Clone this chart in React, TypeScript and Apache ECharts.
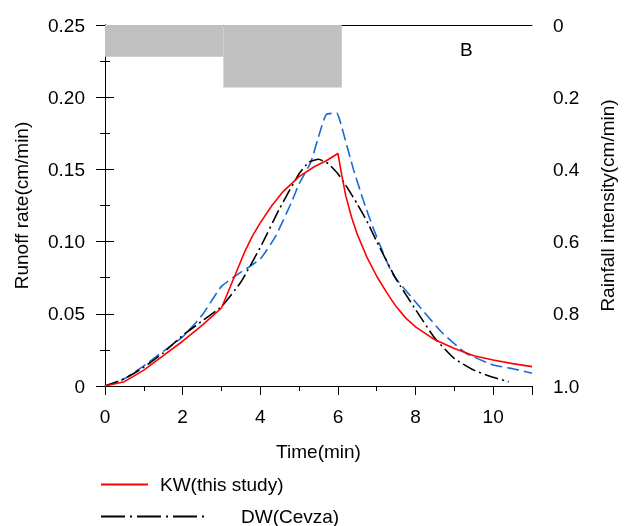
import React, { useEffect, useRef } from "react";
import * as echarts from "echarts";

// KW (this study) – red solid
const kwTime = [0, 0.5, 1, 1.5, 2, 2.5, 3, 3.2, 3.4, 3.6, 3.8, 4, 4.3, 4.6, 5, 5.4, 5.7, 6, 6.1, 6.2, 6.35, 6.5, 6.75, 7, 7.25, 7.5, 7.75, 8, 8.5, 9, 9.5, 10, 10.5, 11];
const kwRate = [0, 0.003, 0.011, 0.021, 0.031, 0.042, 0.054, 0.067, 0.08, 0.093, 0.104, 0.113, 0.125, 0.135, 0.145, 0.152, 0.156, 0.161, 0.146, 0.132, 0.117, 0.105, 0.089, 0.076, 0.065, 0.055, 0.047, 0.041, 0.032, 0.026, 0.021, 0.018, 0.0155, 0.0134];

// DW (Cevza) – black dash-dot
const dwTime = [0, 0.5, 1, 1.5, 2, 2.5, 3, 3.5, 4, 4.5, 5, 5.25, 5.5, 5.75, 6, 6.25, 6.5, 6.75, 7, 7.5, 8, 8.5, 9, 9.5, 10, 10.4];
const dwRate = [0, 0.005, 0.013, 0.023, 0.035, 0.045, 0.055, 0.072, 0.096, 0.123, 0.147, 0.155, 0.157, 0.154, 0.147, 0.137, 0.126, 0.114, 0.1, 0.074, 0.053, 0.033, 0.019, 0.011, 0.006, 0.003];

// third series – blue dashed
const obsTime = [0, 0.5, 1, 1.5, 2, 2.5, 3, 3.4, 4, 4.4, 4.8, 5, 5.3, 5.55, 5.7, 5.97, 6.05, 6.4, 6.65, 6.9, 7.4, 8.1, 8.7, 9.3, 10, 10.5, 11];
const obsRate = [0, 0.005, 0.014, 0.024, 0.034, 0.049, 0.069, 0.077, 0.088, 0.104, 0.127, 0.14, 0.155, 0.177, 0.188, 0.189, 0.184, 0.15, 0.129, 0.11, 0.078, 0.055, 0.0365, 0.0227, 0.0146, 0.012, 0.0088];

// rainfall hyetograph
const rainStart = [0, 3.05];
const rainEnd = [3.05, 6.1];
const rainIntensity = [0.088, 0.173];

const runoffTickLabels = ["0", "0.05", "0.10", "0.15", "0.20", "0.25"];
const rainTickLabels = ["0", "0.2", "0.4", "0.6", "0.8", "1.0"];

const FONT = "'Liberation Sans', Arial, sans-serif";

export default function App() {
  const ref = useRef<HTMLDivElement>(null);
  useEffect(() => {
    if (!ref.current) return;
    const chart = echarts.init(ref.current, null, { renderer: "svg" });
    const zip = (t: number[], v: number[]) => t.map((x, i) => [x, v[i]]);
    const rainData = rainStart.map((s, i) => [s, rainEnd[i], rainIntensity[i]]);
    const axisLine = { show: true, lineStyle: { color: "#000", width: 1 } };
    const labelStyle = { fontFamily: FONT, fontSize: 19, color: "#000" };
    chart.setOption({
      animation: false,
      grid: { left: 105, right: 87, top: 25, bottom: 140, containLabel: false },
      xAxis: [
        {
          type: "value",
          min: 0,
          max: 11,
          interval: 2,
          position: "bottom",
          axisLine,
          axisTick: { show: true, length: 9, lineStyle: { color: "#000" } },
          minorTick: { show: true, splitNumber: 2, length: 5, lineStyle: { color: "#000" } },
          splitLine: { show: false },
          axisLabel: { ...labelStyle, margin: 21, showMaxLabel: false },
          name: "Time(min)",
          nameLocation: "middle",
          nameGap: 56,
          nameTextStyle: labelStyle,
        },
        {
          type: "value",
          min: 0,
          max: 11,
          position: "top",
          axisLine,
          axisTick: { show: false },
          axisLabel: { show: false },
          splitLine: { show: false },
        },
      ],
      yAxis: [
        {
          type: "value",
          min: 0,
          max: 0.25,
          interval: 0.05,
          position: "left",
          axisLine,
          axisTick: { show: true, length: 9, lineStyle: { color: "#000" } },
          minorTick: { show: true, splitNumber: 2, length: 5, lineStyle: { color: "#000" } },
          splitLine: { show: false },
          axisLabel: { ...labelStyle, margin: 20, formatter: (_v: number, i: number) => runoffTickLabels[i] },
          name: "Runoff rate(cm/min)",
          nameLocation: "middle",
          nameGap: 74,
          nameTextStyle: labelStyle,
        },
        {
          type: "value",
          min: 0,
          max: 1,
          interval: 0.2,
          inverse: true,
          position: "right",
          axisLine,
          axisTick: { show: true, length: 9, lineStyle: { color: "#000" } },
          minorTick: { show: true, splitNumber: 2, length: 5, lineStyle: { color: "#000" } },
          splitLine: { show: false },
          axisLabel: { ...labelStyle, margin: 21, formatter: (_v: number, i: number) => rainTickLabels[i] },
          name: "Rainfall intensity(cm/min)",
          nameLocation: "middle",
          nameGap: 66,
          nameRotate: 90,
          nameTextStyle: labelStyle,
        },
      ],
      legend: [
        {
          data: ["KW(this study)"],
          left: 100,
          top: 475,
          padding: 0,
          itemWidth: 47,
          itemHeight: 14,
          selectedMode: false,
          itemStyle: { opacity: 0 },
          textStyle: { ...labelStyle, padding: [0, 0, 0, 7] },
        },
        {
          data: ["DW(Cevza)"],
          left: 100,
          top: 507,
          padding: 0,
          itemWidth: 107,
          itemHeight: 14,
          selectedMode: false,
          itemStyle: { opacity: 0 },
          lineStyle: { type: [24, 5, 2, 5] },
          textStyle: { ...labelStyle, padding: [0, 0, 0, 28] },
        },
      ],
      graphic: [
        {
          type: "text",
          left: 460,
          top: 40,
          style: { text: "B", font: `19px ${FONT}`, fill: "#000" },
        },
      ],
      series: [
        {
          type: "custom",
          name: "Rainfall",
          xAxisIndex: 0,
          yAxisIndex: 1,
          silent: true,
          data: rainData,
          encode: { x: [0, 1], y: 2 },
          renderItem: (_p: any, api: any) => {
            const a = api.coord([api.value(0), 0]);
            const b = api.coord([api.value(1), api.value(2)]);
            return {
              type: "rect",
              shape: { x: a[0], y: a[1], width: b[0] - a[0], height: b[1] - a[1] },
              style: { fill: "#c0c0c0" },
            };
          },
          z: 1,
        },
        {
          type: "line",
          name: "Observed",
          yAxisIndex: 0,
          data: zip(obsTime, obsRate),
          symbol: "none",
          smooth: 0.15,
          lineStyle: { color: "#1b6ad0", width: 1.6, type: [12, 5] },
          z: 3,
        },
        {
          type: "line",
          name: "DW(Cevza)",
          yAxisIndex: 0,
          data: zip(dwTime, dwRate),
          symbol: "none",
          smooth: 0.15,
          lineStyle: { color: "#000", width: 1.6, type: [14, 4, 2, 4] },
          itemStyle: { color: "#000" },
          z: 4,
        },
        {
          type: "line",
          name: "KW(this study)",
          yAxisIndex: 0,
          data: zip(kwTime, kwRate),
          symbol: "none",
          smooth: false,
          lineStyle: { color: "#ff0000", width: 1.6 },
          itemStyle: { color: "#ff0000" },
          z: 5,
        },
      ],
    });
    return () => chart.dispose();
  }, []);
  return <div ref={ref} style={{ position: "fixed", left: 0, top: 0, width: 625, height: 526 }} />;
}
